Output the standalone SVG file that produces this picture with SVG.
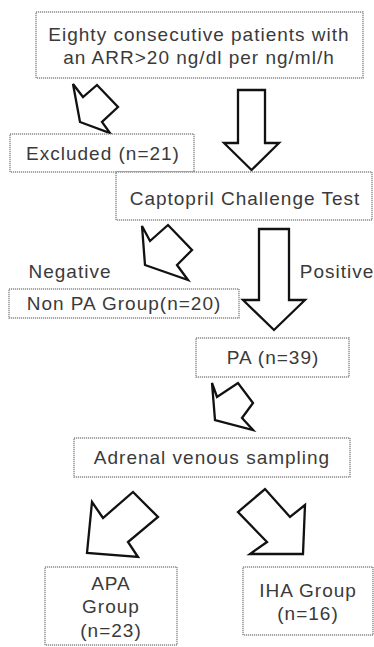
<svg xmlns="http://www.w3.org/2000/svg" width="374" height="647" viewBox="0 0 374 647">
<style>
.box{fill:#fff;stroke:#8c8c8c;stroke-width:1.4;stroke-dasharray:1.2 0.8}
.t{font-family:"Liberation Sans",Arial,sans-serif;font-size:19px;fill:#3a3a3a;text-anchor:middle;letter-spacing:1px}
.arr{fill:#fff;stroke:#111;stroke-width:2.3;stroke-linejoin:miter}
</style>
<rect width="374" height="647" fill="#fff"/>
<g id="connectors">
<polygon class="arr" points="238,90 265,90 265,143 279,143 251.5,170 224,143 238,143"/>
<polygon class="arr" points="73,84 83,97 97,85 118,107 102,122 110,133 80,122"/>
<polygon class="arr" points="259,229 289,229 289,300 305,300 274,330 243,300 259,300"/>
<polygon class="arr" points="142,226 150,241 168,225 192,250 177,265 188,280 145,265"/>
<polygon class="arr" points="212,383 217,397 238,383 253,403 242,418 253,430 215,420"/>
<polygon class="arr" points="92,502 103,518 133,492 158,517 128,542 138,557 87,553"/>
<polygon class="arr" points="305,505 290,517 265,489 238,512 267,542 250,554 303,554"/>
</g>
<g id="n1"><rect class="box" x="36" y="12" width="327" height="66"/>
<text class="t" x="199" y="41">Eighty consecutive patients with</text>
<text class="t" x="199" y="64">an ARR&gt;20 ng/dl per ng/ml/h</text></g>
<g id="n2"><rect class="box" x="10" y="134" width="184" height="38"/>
<text class="t" x="103" y="160">Excluded (n=21)</text></g>
<g id="n3"><rect class="box" x="116" y="172" width="256" height="48"/>
<text class="t" x="245" y="205">Captopril Challenge Test</text></g>
<g id="lneg"><text class="t" x="70" y="278">Negative</text></g>
<g id="lpos"><text class="t" x="337" y="278">Positive</text></g>
<g id="n4"><rect class="box" x="9" y="289" width="230" height="29"/>
<text class="t" x="124" y="310">Non PA Group(n=20)</text></g>
<g id="n5"><rect class="box" x="196" y="338" width="153" height="39"/>
<text class="t" x="273" y="364">PA (n=39)</text></g>
<g id="n6"><rect class="box" x="74" y="438" width="276" height="39"/>
<text class="t" x="212" y="464">Adrenal venous sampling</text></g>
<g id="n7"><rect class="box" x="45" y="567" width="132" height="78"/>
<text class="t" x="111" y="590">APA</text>
<text class="t" x="111" y="613">Group</text>
<text class="t" x="111" y="637">(n=23)</text></g>
<g id="n8"><rect class="box" x="243" y="567" width="130" height="68"/>
<text class="t" x="308" y="597">IHA Group</text>
<text class="t" x="308" y="620">(n=16)</text></g>
</svg>
